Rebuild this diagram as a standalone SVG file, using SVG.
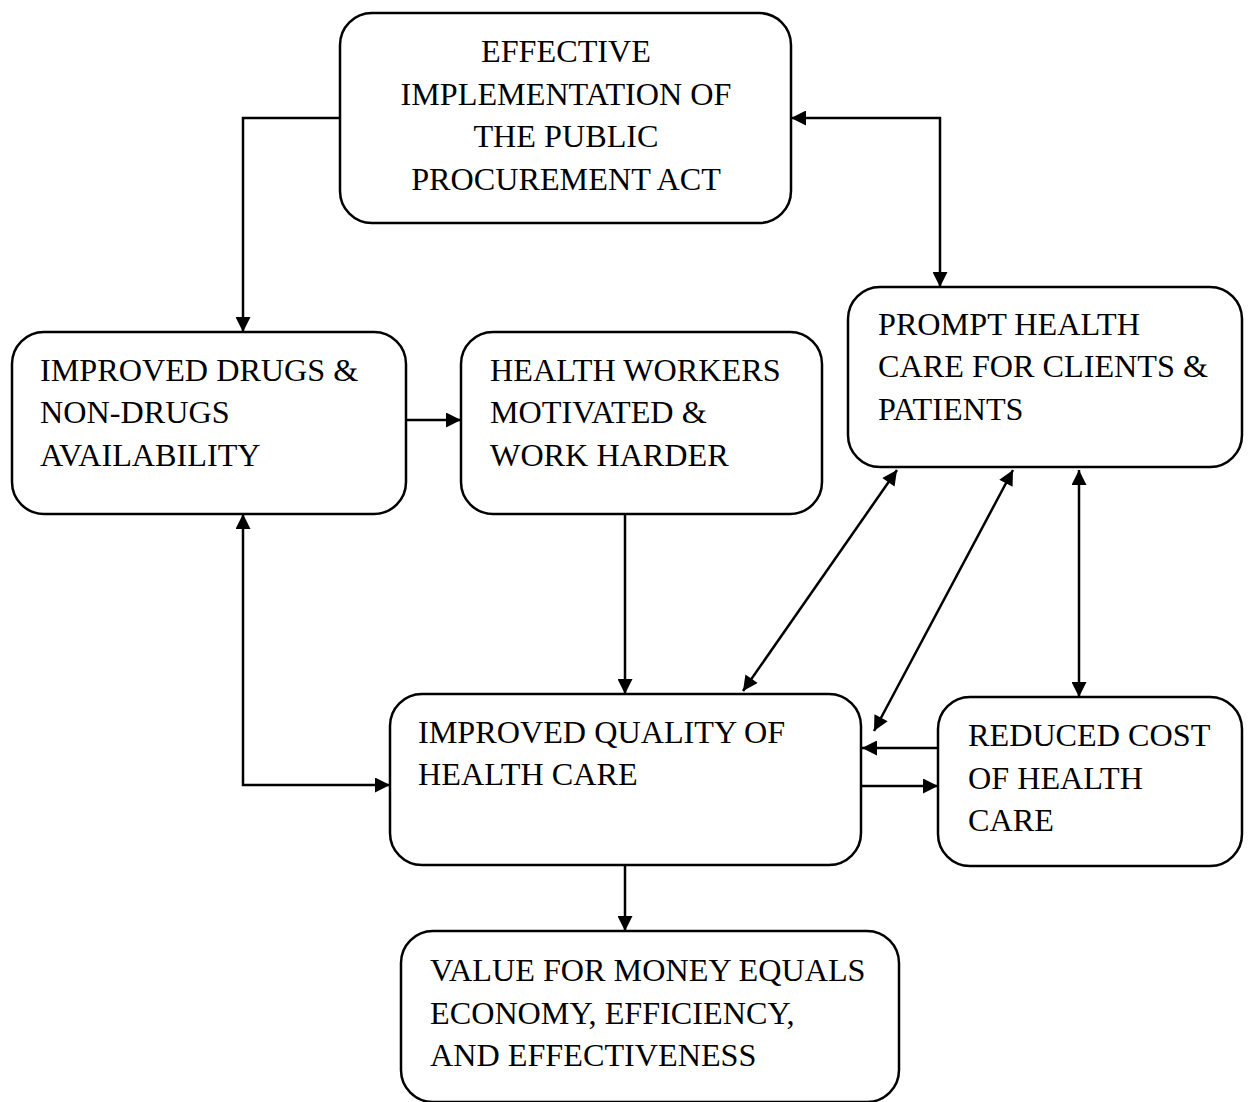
<svg xmlns="http://www.w3.org/2000/svg" width="1253" height="1102" viewBox="0 0 1253 1102">
<defs>
<marker id="ah" viewBox="0 0 10 10" refX="10" refY="5" markerWidth="16" markerHeight="15" markerUnits="userSpaceOnUse" orient="auto-start-reverse">
<path d="M0,0 L10,5 L0,10 Z" fill="#000"/>
</marker>
<style>
.box{fill:#fff;stroke:#000;stroke-width:2.5}
.t{font-family:"Liberation Serif","Times New Roman",serif;font-size:32.2px;fill:#000}
.c{fill:none;stroke:#000;stroke-width:2.5}
</style>
</defs>
<rect width="1253" height="1102" fill="#fff"/>
<g id="connectors">
<polyline class="c" points="340,118 243,118 243,332" marker-end="url(#ah)"/>
<polyline class="c" points="791,118 940,118 940,287" marker-start="url(#ah)" marker-end="url(#ah)"/>
<line class="c" x1="406" y1="420" x2="461" y2="420" marker-end="url(#ah)"/>
<line class="c" x1="625" y1="514" x2="625" y2="694" marker-end="url(#ah)"/>
<line class="c" x1="625" y1="865" x2="625" y2="931" marker-end="url(#ah)"/>
<polyline class="c" points="243,514 243,785 390,785" marker-start="url(#ah)" marker-end="url(#ah)"/>
<line class="c" x1="897" y1="470" x2="743" y2="691" marker-start="url(#ah)" marker-end="url(#ah)"/>
<line class="c" x1="1013" y1="470" x2="874" y2="731" marker-start="url(#ah)" marker-end="url(#ah)"/>
<line class="c" x1="1079" y1="470" x2="1079" y2="697" marker-start="url(#ah)" marker-end="url(#ah)"/>
<line class="c" x1="938" y1="748" x2="862" y2="748" marker-end="url(#ah)"/>
<line class="c" x1="862" y1="786" x2="938" y2="786" marker-end="url(#ah)"/>
</g>
<g id="n-effective">
<rect class="box" x="340" y="13" width="451" height="210" rx="32"/>
<text class="t" x="566" y="62" text-anchor="middle">EFFECTIVE</text>
<text class="t" x="566" y="105" text-anchor="middle">IMPLEMENTATION OF</text>
<text class="t" x="566" y="147" text-anchor="middle">THE PUBLIC</text>
<text class="t" x="566" y="190" text-anchor="middle">PROCUREMENT ACT</text>
</g>
<g id="n-drugs">
<rect class="box" x="12" y="332" width="394" height="182" rx="32"/>
<text class="t" x="40" y="381">IMPROVED DRUGS &amp;</text>
<text class="t" x="40" y="423">NON-DRUGS</text>
<text class="t" x="40" y="466">AVAILABILITY</text>
</g>
<g id="n-workers">
<rect class="box" x="461" y="332" width="361" height="182" rx="32"/>
<text class="t" x="490" y="381">HEALTH WORKERS</text>
<text class="t" x="490" y="423">MOTIVATED &amp;</text>
<text class="t" x="490" y="466">WORK HARDER</text>
</g>
<g id="n-prompt">
<rect class="box" x="848" y="287" width="394" height="180" rx="32"/>
<text class="t" x="878" y="335">PROMPT HEALTH</text>
<text class="t" x="878" y="377">CARE FOR CLIENTS &amp;</text>
<text class="t" x="878" y="420">PATIENTS</text>
</g>
<g id="n-quality">
<rect class="box" x="390" y="694" width="471" height="171" rx="32"/>
<text class="t" x="418" y="743">IMPROVED QUALITY OF</text>
<text class="t" x="418" y="785">HEALTH CARE</text>
</g>
<g id="n-cost">
<rect class="box" x="938" y="697" width="304" height="169" rx="32"/>
<text class="t" x="968" y="746">REDUCED COST</text>
<text class="t" x="968" y="789">OF HEALTH</text>
<text class="t" x="968" y="831">CARE</text>
</g>
<g id="n-value">
<rect class="box" x="401" y="931" width="498" height="171" rx="32"/>
<text class="t" x="430" y="981">VALUE FOR MONEY EQUALS</text>
<text class="t" x="430" y="1024">ECONOMY, EFFICIENCY,</text>
<text class="t" x="430" y="1066">AND EFFECTIVENESS</text>
</g>
</svg>
